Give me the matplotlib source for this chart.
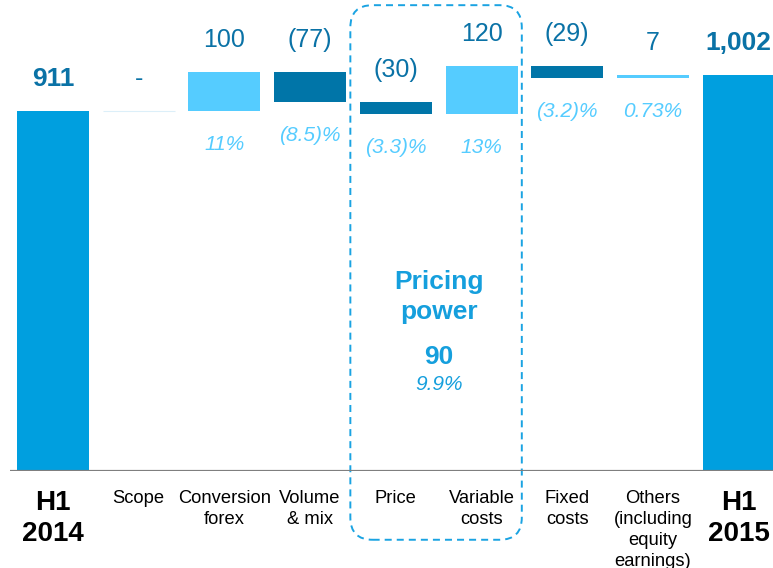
import matplotlib
matplotlib.use("Agg")
import matplotlib.pyplot as plt
import numpy as np
from matplotlib.patches import FancyBboxPatch

plt.rcParams["font.family"] = ["Liberation Sans", "DejaVu Sans"]

# data
categories = ["H1\n2014", "Scope", "Conversion\nforex", "Volume\n& mix", "Price",
              "Variable\ncosts", "Fixed\ncosts", "Others\n(including\nequity\nearnings)",
              "H1\n2015"]
start_value = 911
deltas = [0, 100, -77, -30, 120, -29, 7]
pct_labels = ["", "11%", "(8.5)%", "(3.3)%", "13%", "(3.2)%", "0.73%"]
pricing_idx = [3, 4]          # Price and Variable costs within deltas
pricing_pct = "9.9%"

TOTAL = "#009FDF"
POS = "#55CCFF"
NEG = "#0075A8"
LABEL = "#0A72A6"
BRIGHT = "#159FDD"


def fmt(v):
    if v == 0:
        return "-"
    s = f"{abs(v):,}"
    return f"({s})" if v < 0 else s


end_value = start_value + sum(deltas)
cum = start_value + np.concatenate([[0], np.cumsum(deltas)])
bottoms = [0] + [min(cum[i], cum[i + 1]) for i in range(len(deltas))] + [0]
heights = [start_value] + [abs(d) for d in deltas] + [end_value]
colors = [TOTAL] + [POS if d > 0 else NEG for d in deltas] + [TOTAL]
values = [start_value] + deltas + [end_value]
x = np.arange(len(categories))

fig = plt.figure(figsize=(7.73, 5.68), dpi=100)
ax = fig.add_axes([10 / 773, 97 / 568, 763 / 773, 471 / 568])

ax.bar(x, heights, bottom=bottoms, width=0.84, color=colors, linewidth=0)
# scope is zero: faint marker line
ax.hlines(cum[0], x[1] - 0.42, x[1] + 0.42, color="#DCEFF9", lw=0.8)

ax.axhline(0, color="#7F7F7F", lw=2.3, zorder=5)
ax.set_xlim(-0.5, 8.4)
ax.set_ylim(0, 1192)
for s in ax.spines.values():
    s.set_visible(False)
ax.set_yticks([])
ax.set_xticks(x, categories)
ax.tick_params(axis="x", length=0, pad=14, labelsize=13.2)
for i, lab in enumerate(ax.get_xticklabels()):
    lab.set_linespacing(1.3)
    if i in (0, len(categories) - 1):
        lab.set_fontweight("bold")
        lab.set_fontsize(20)
        lab.set_linespacing(1.25)

# value labels above bars
for i, v in enumerate(values):
    top = bottoms[i] + heights[i]
    total = i in (0, len(values) - 1)
    ax.annotate(fmt(v), (x[i], top), xytext=(0, 23), textcoords="offset points",
                ha="center", va="center", color=LABEL,
                fontsize=19 if total else 18,
                fontweight="bold" if total else "normal")

# percentage labels below delta bars
for j, p in enumerate(pct_labels):
    if not p:
        continue
    i = j + 1
    ax.annotate(p, (x[i], bottoms[i]), xytext=(0, -24), textcoords="offset points",
                ha="center", va="center", color=POS, fontsize=15, style="italic")

# pricing power box
trans = ax.get_xaxis_transform()
x0 = x[pricing_idx[0] + 1] - 0.53
x1 = x[pricing_idx[1] + 1] + 0.47
box = FancyBboxPatch((x0, -0.146), x1 - x0, 0.989 + 0.146,
                     boxstyle="round,pad=0,rounding_size=0.26",
                     mutation_aspect=0.182, transform=trans, clip_on=False,
                     fill=False, edgecolor="#1AA3E2", lw=1.4,
                     linestyle=(0, (3.6, 2.6)))
ax.add_patch(box)

xc = (x[pricing_idx[0] + 1] + x[pricing_idx[1] + 1]) / 2
pricing_total = sum(deltas[k] for k in pricing_idx)
ax.text(xc, 0.369, "Pricing\npower", transform=trans, ha="center", va="center",
        color=BRIGHT, fontsize=19, fontweight="bold", linespacing=1.3)
ax.text(xc, 0.242, fmt(pricing_total), transform=trans, ha="center", va="center",
        color=BRIGHT, fontsize=19, fontweight="bold")
ax.text(xc, 0.183, pricing_pct, transform=trans, ha="center", va="center",
        color=BRIGHT, fontsize=15, style="italic")

fig.savefig("out.png", dpi=100)
